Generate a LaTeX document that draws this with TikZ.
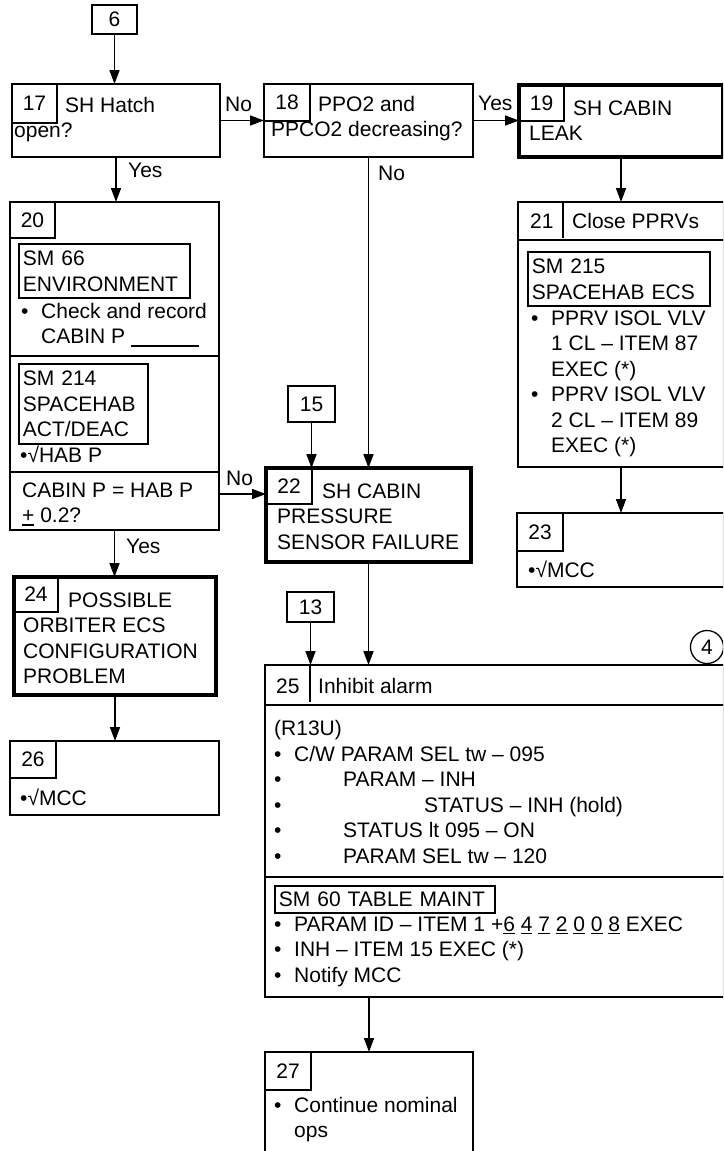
\documentclass[tikz,border=0pt]{standalone}
\usepackage{fontspec}
\setmainfont{Liberation Sans}
\usepackage{tikz}
\usetikzlibrary{arrows.meta}
\newcommand{\bul}{\makebox[20pt][l]{\textbullet}}
\newcommand{\udig}[1]{\setbox0=\hbox{#1}\rlap{\rule[-3pt]{\wd0}{1.3pt}}#1}
\tikzset{
  frame/.style={draw, line width=1.7pt, anchor=north west, inner sep=0pt, outer sep=0pt},
  thickframe/.style={frame, line width=4.8pt},
  numbox/.style={draw, line width=1.3pt, anchor=north west, inner sep=0pt, outer sep=0pt},
  numline/.style={line width=1.3pt},
  sep/.style={line width=1.7pt},
  screen/.style={draw, line width=1.7pt, anchor=north west, align=left, inner xsep=4pt, inner ysep=7pt},
  txt/.style={anchor=base west, align=left, inner sep=0pt},
  lbl/.style={anchor=base west, inner sep=0pt},
  flow/.style={->, line width=1.6pt}
}
\begin{document}
\begin{tikzpicture}[x=1pt,y=-1pt,>={Triangle[length=14pt,width=10pt]},
  every node/.style={font=\fontsize{21}{25.5}\selectfont}]
        \useasboundingbox (0,0) rectangle (723,1151);
        \clip (0,0) rectangle (723,1151);
        \node[frame, minimum width=45pt, minimum height=29pt] (b6) at (92,5) {6};
        \node[frame, minimum width=208pt, minimum height=73pt] (b17) at (12,84) {};
        \node[numbox, minimum width=45pt, minimum height=39pt] (n17) at (b17.north west) {17};
        \node[txt] (t17) at (14,137.5) {\hspace*{51pt}SH Hatch\\open?};
        \node[frame, minimum width=209pt, minimum height=73pt] (b18) at (264,84) {};
        \node[numbox, minimum width=46pt, minimum height=37pt] (n18) at (b18.north west) {18};
        \node[txt] (t18) at (271,136.5) {\hspace*{47pt}PPO2 and\\PPCO2 decreasing?};
        \node[thickframe, minimum width=204pt, minimum height=72pt] (b19) at (519,85) {};
        \node[numbox, minimum width=45pt, minimum height=36pt] (n19) at (b19.north west) {19};
        \node[txt] (t19) at (529,140.5) {\hspace*{44pt}SH CABIN\\LEAK};
        \node[frame, minimum width=209pt, minimum height=328pt] (b20) at (10,202) {};
        \node[numbox, minimum width=45pt, minimum height=36pt] (n20) at (b20.north west) {20};
        \node[screen, text width=163pt] (s66) at (18,243) {SM 66\\ENVIRONMENT};
        \node[txt] (t20a) at (21,343.5) {\bul Check and record\\\hspace*{20pt}CABIN P \rule[-3pt]{68pt}{1.3pt}};
        \draw[sep] ([yshift=-154pt]b20.north west) -- ([yshift=-154pt]b20.north east);
        \node[screen, text width=121pt] (s214) at (18,363) {SM 214\\SPACEHAB\\ACT/DEAC};
        \node[txt] (t20b) at (20,462) {•√HAB P};
        \draw[sep] ([yshift=-270pt]b20.north west) -- ([yshift=-270pt]b20.north east);
        \node[txt] (t20c) at (22,522.5) {CABIN P = HAB P\\\udig{+} 0.2?};
        \node[thickframe, minimum width=205pt, minimum height=94pt] (b22) at (266,468) {};
        \node[numbox, minimum width=46pt, minimum height=36pt] (n22) at (b22.north west) {22};
        \node[txt] (t22) at (277,549) {\hspace*{45pt}SH CABIN\\PRESSURE\\SENSOR FAILURE};
        \node[frame, minimum width=47pt, minimum height=36pt] (b15) at (288,386) {15};
        \node[frame, minimum width=206pt, minimum height=265pt] (b21) at (518,202) {};
        \draw[numline] ([xshift=45pt]b21.north west) -- ++(0,36);
        \draw[sep] ([yshift=-38pt]b21.north west) -- ([yshift=-38pt]b21.north east);
        \node[txt] (n21) at (530,228) {21};
        \node[txt] (t21) at (572,228) {Close PPRVs};
        \node[screen, text width=174pt] (s215) at (527,251) {SM 215\\SPACEHAB ECS};
        \node[txt] (t21b) at (531,452.5) {\bul PPRV ISOL VLV\\\hspace*{20pt}1 CL – ITEM 87\\\hspace*{20pt}EXEC (*)\\\bul PPRV ISOL VLV\\\hspace*{20pt}2 CL – ITEM 89\\\hspace*{20pt}EXEC (*)};
        \node[frame, minimum width=207pt, minimum height=74pt] (b23) at (517,513) {};
        \node[numbox, minimum width=46pt, minimum height=38pt] (n23) at (b23.north west) {23};
        \node[txt] (t23) at (528,577) {•√MCC};
        \node[draw, circle, line width=1.3pt, minimum size=33pt, inner sep=0pt] (c4) at (707,647) {4};
        \node[thickframe, minimum width=202pt, minimum height=118pt] (b24) at (14,577) {};
        \node[numbox, minimum width=44pt, minimum height=35pt] (n24) at (b24.north west) {24};
        \node[txt] (t24) at (23,683.5) {\hspace*{45pt}POSSIBLE\\ORBITER ECS\\CONFIGURATION\\PROBLEM};
        \node[frame, minimum width=209pt, minimum height=74pt] (b26) at (10,741) {};
        \node[numbox, minimum width=46pt, minimum height=37pt] (n26) at (b26.north west) {26};
        \node[txt] (t26) at (20,805) {•√MCC};
        \node[frame, minimum width=47pt, minimum height=30pt] (b13) at (287,592) {13};
        \node[frame, minimum width=459pt, minimum height=332pt] (b25) at (265,665) {};
        \draw[numline] ([xshift=45pt]b25.north west) -- ++(0,37);
        \draw[sep] ([yshift=-40pt]b25.north west) -- ([yshift=-40pt]b25.north east);
        \node[txt] (n25) at (276,693) {25};
        \node[txt] (t25) at (318,693) {Inhibit alarm};
        \node[txt] (t25a) at (274,863) {(R13U)\\\bul C/W PARAM SEL tw – 095\\\bul\hspace*{49pt}PARAM – INH\\\bul\hspace*{130pt}STATUS – INH (hold)\\\bul\hspace*{49pt}STATUS lt 095 – ON\\\bul\hspace*{49pt}PARAM SEL tw – 120};
        \draw[sep] ([yshift=-212pt]b25.north west) -- ([yshift=-212pt]b25.north east);
        \node[screen, text width=212pt, inner ysep=6pt] (s60) at (274,885) {SM 60 TABLE MAINT};
        \node[txt] (t25b) at (274,982) {\bul PARAM ID – ITEM 1 +\udig{6} \udig{4} \udig{7} \udig{2} \udig{0} \udig{0} \udig{8} EXEC\\\bul INH – ITEM 15 EXEC (*)\\\bul Notify MCC};
        \node[frame, minimum width=208pt, minimum height=110pt] (b27) at (265,1052) {};
        \node[numbox, minimum width=46pt, minimum height=38pt] (n27) at (b27.north west) {27};
        \node[txt] (t27) at (274,1137.5) {\bul Continue nominal\\\hspace*{20pt}ops};
        \node[lbl] (l17no) at (225,111) {No};
        \node[lbl] (l18yes) at (478,110) {Yes};
        \node[lbl] (l17yes) at (128,177) {Yes};
        \node[lbl] (l18no) at (378,180) {No};
        \node[lbl] (l20no) at (226,485) {No};
        \node[lbl] (l20yes) at (126,553) {Yes};
        \coordinate (no20) at (219,494);
        \draw[flow] (b6) -- (b6 |- b17.north);
        \draw[flow] (b17) -- (b18);
        \draw[flow] (b18.east) -- (b18.east -| b19.west);
        \draw[flow] (b17.south) -- (b17.south |- b20.north);
        \draw[flow] (b18.south) -- (b18.south |- b22.north);
        \draw[flow] (b19.south) -- (b19.south |- b21.north);
        \draw[flow] (b21.south) -- (b21.south |- b23.north);
        \draw[flow] (b15) -- (b15 |- b22.north);
        \draw[flow] (no20) -- (no20 -| b22.west);
        \draw[flow] (b20.south) -- (b20.south |- b24.north);
        \draw[flow] (b24.south) -- (b24.south |- b26.north);
        \draw[flow] (b13) -- (b13 |- b25.north);
        \draw[flow] (b22.south) -- (b22.south |- b25.north);
        \draw[flow] (b27.north |- b25.south) -- (b27.north);
\end{tikzpicture}
\end{document}
